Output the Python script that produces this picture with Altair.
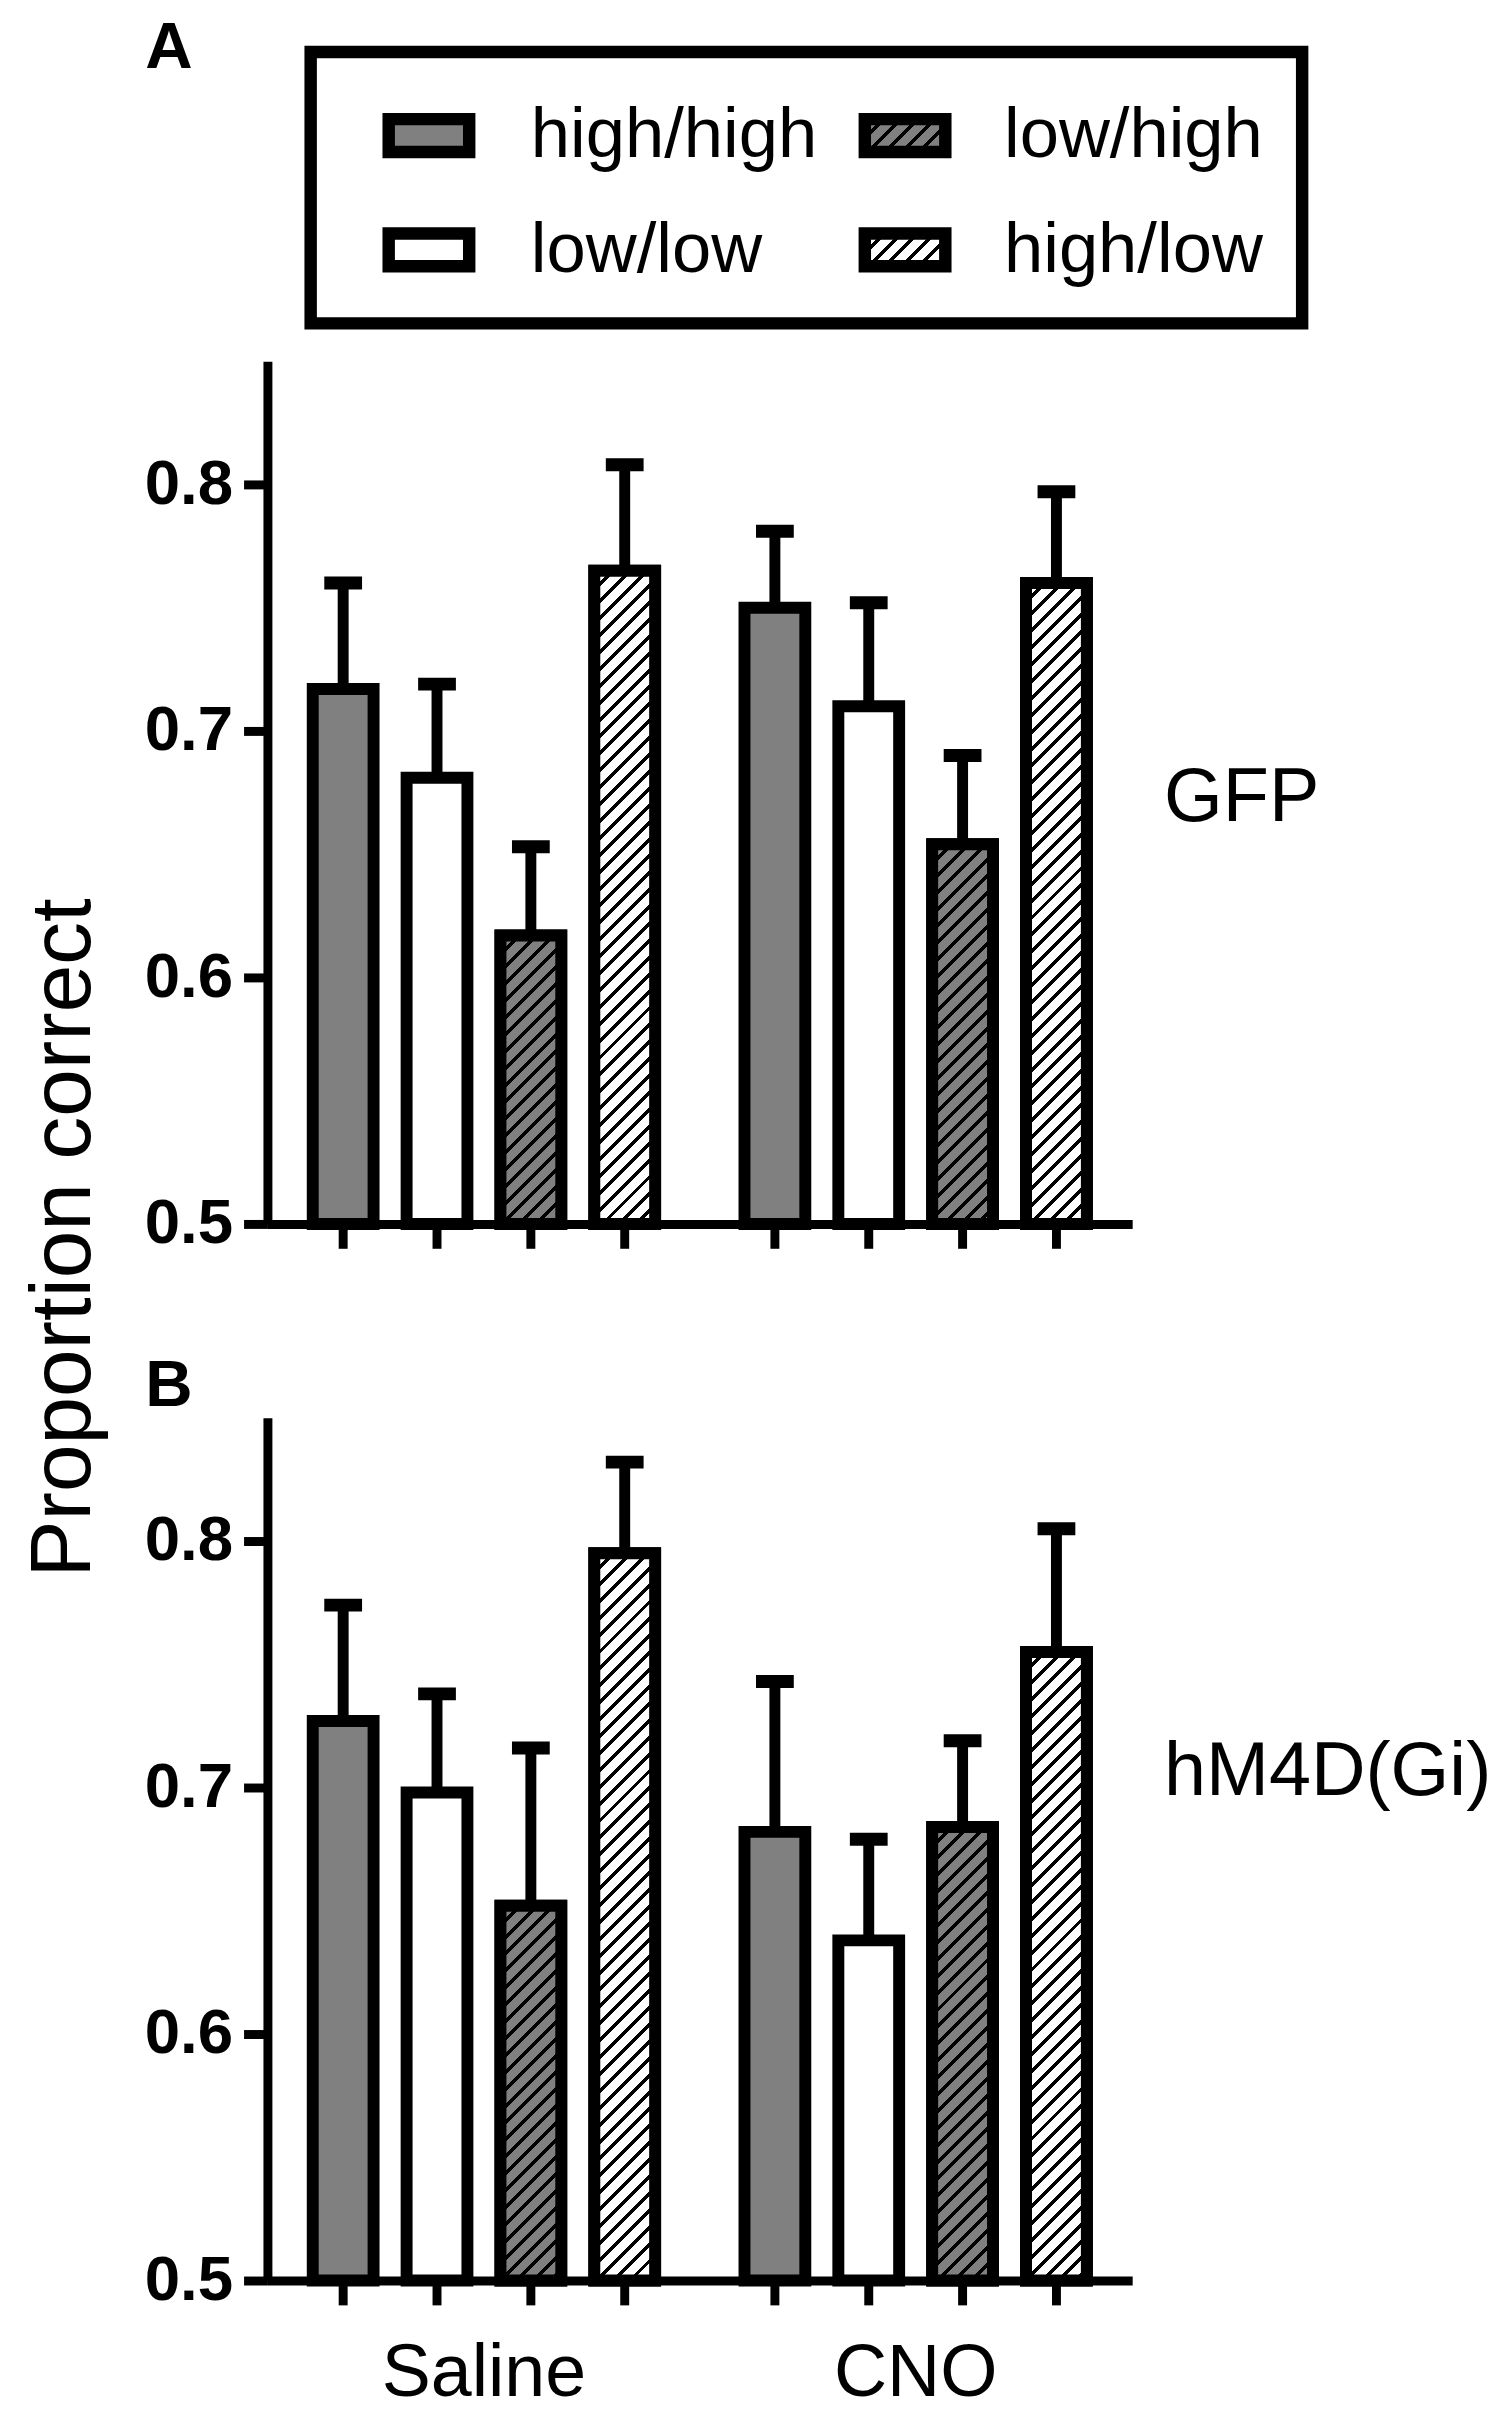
import altair as alt
import pandas as pd

# ---------------- data ----------------
conditions = ["Saline", "CNO"]
groups = ["high/high", "low/low", "low/high", "high/low"]
panel_labels = ["GFP", "hM4D(Gi)"]
panel_letters = ["A", "B"]
y_ticks = [0.5, 0.6, 0.7, 0.8]

# order: Saline x4 groups, CNO x4 groups
gfp_mean = [0.717, 0.681, 0.617, 0.765, 0.750, 0.710, 0.654, 0.760]
gfp_upper = [0.760, 0.719, 0.653, 0.808, 0.781, 0.752, 0.690, 0.797]
hm4d_mean = [0.727, 0.698, 0.652, 0.795, 0.682, 0.638, 0.684, 0.755]
hm4d_upper = [0.774, 0.738, 0.716, 0.832, 0.743, 0.679, 0.719, 0.805]

# ---------------- style ----------------
FONT = "Liberation Sans, Arial, sans-serif"
GRAY = "#808080"
group_fill = [GRAY, "white", GRAY, "white"]
group_hatched = [False, False, True, True]

W, H = 870, 868
Y0, Y1 = 0.5, 0.85
PI, PO = 0.207, 0.105
PI2 = 0.352
GAP = 195
step = W / (len(conditions) - PI + 2 * PO)
bw = step * (1 - PI)
sub = bw / (len(groups) - PI2)
BAR_W = sub * (1 - PI2)
NOVIEW = alt.ViewBackground(stroke="transparent", strokeWidth=0)


def hatch(base, w, h, period=17.0, dark=5.0):
    L = w + h
    d = w * w + h * h
    x2 = w * L / d
    y2 = h * L / d
    stops = []
    pos = 0.0
    while pos < L:
        a = pos / L
        b = min((pos + dark) / L, 1.0)
        c = min((pos + period) / L, 1.0)
        stops += [{"offset": round(a, 5), "color": "black"},
                  {"offset": round(b, 5), "color": "black"},
                  {"offset": round(b, 5), "color": base},
                  {"offset": round(c, 5), "color": base}]
        pos += period
    return {"gradient": "linear", "x1": 0, "y1": 0, "x2": x2, "y2": y2,
            "stops": stops}


def panel(means, uppers, label, label_y, letter, letter_y, show_labels, with_title):
    df = pd.DataFrame({
        "cond": [c for c in conditions for g in groups],
        "group": groups * len(conditions),
        "mean": means,
        "upper": uppers,
    })
    x = alt.X("cond:N", sort=conditions,
              scale=alt.Scale(paddingInner=PI, paddingOuter=PO),
              axis=alt.Axis(title=None, ticks=False, tickSize=0, domainWidth=9,
                            domainColor="black", labels=show_labels, labelAngle=0,
                            labelFontSize=74, labelFont=FONT, labelColor="black",
                            labelPadding=58, labelLimit=600, zindex=1))
    xo = alt.XOffset("group:N", sort=groups,
                     scale=alt.Scale(paddingInner=PI2, paddingOuter=0))
    yscale = alt.Scale(domain=[Y0, Y1], zero=False, nice=False)
    yaxis = alt.Axis(values=y_ticks, format=".1f", title=None, grid=False,
                     domainWidth=9, domainColor="black", tickWidth=9, tickSize=24,
                     tickColor="black", labelPadding=11, labelFontSize=64,
                     labelFontWeight="bold", labelFont=FONT, labelColor="black",
                     zindex=1)
    base = alt.Chart(df)
    stems = base.mark_rule(color="black", strokeWidth=11, opacity=1).encode(
        x=x, xOffset=xo, y=alt.Y("mean:Q", scale=yscale, axis=yaxis), y2="upper:Q")
    caps = base.mark_tick(color="black", thickness=13, size=38, opacity=1).encode(
        x=x, xOffset=xo, y=alt.Y("upper:Q", scale=yscale, axis=yaxis))
    bars = base.mark_bar(stroke="black", strokeWidth=12, opacity=1).encode(
        x=x, xOffset=xo, y=alt.Y("mean:Q", scale=yscale, axis=yaxis),
        y2=alt.datum(Y0),
        fill=alt.Fill("group:N", scale=alt.Scale(domain=groups, range=group_fill),
                      legend=None))
    layers = [stems, caps, bars]
    for c, g, m in zip(df["cond"], df["group"], df["mean"]):
        gi = groups.index(g)
        if not group_hatched[gi]:
            continue
        h = (m - Y0) / (Y1 - Y0) * H
        layers.append(
            base.transform_filter((alt.datum.cond == c) & (alt.datum.group == g))
            .mark_bar(stroke="black", strokeWidth=12, opacity=1,
                      fill=hatch(group_fill[gi], BAR_W, h))
            .encode(x=x, xOffset=xo, y=alt.Y("mean:Q", scale=yscale, axis=yaxis),
                    y2=alt.datum(Y0)))
    xticks = base.mark_rule(color="black", strokeWidth=9).encode(
        x=x, xOffset=xo, y=alt.datum(Y0), y2=alt.value(H + 25))
    layers.append(xticks)
    layers.append(
        alt.Chart(pd.DataFrame({"t": [label]})).mark_text(
            align="left", baseline="middle", fontSize=76, font=FONT, color="black")
        .encode(text="t:N", x=alt.value(W + 32), y=alt.value(label_y)))
    if letter is not None:
        layers.append(
            alt.Chart(pd.DataFrame({"t": [letter]})).mark_text(
                align="left", baseline="alphabetic", fontSize=66, fontWeight="bold",
                font=FONT, color="black")
            .encode(text="t:N", x=alt.value(-123), y=alt.value(letter_y)))
    if with_title:
        layers.append(
            alt.Chart(pd.DataFrame({"t": ["Proportion correct"]})).mark_text(
                align="center", baseline="alphabetic", angle=270, fontSize=86,
                font=FONT, color="black")
            .encode(text="t:N", x=alt.value(-178), y=alt.value(H + 14)))
    return alt.layer(*layers).properties(width=W, height=H, view=NOVIEW)


# ---------------- legend ----------------
# legend view: top at the box top; its (flush) height leaves GAP to panel A
LW = 1041
LH = 311 - GAP
SW, SH = 81, 33
leg_col = [0, 0, 1, 1]
leg_row = [0, 1, 0, 1]
leg_groups = ["high/high", "low/low", "low/high", "high/low"]
col_cx = [162.5, 641.5]
row_cy = [84, 199]
col_tx = [265, 741]
row_ty = [106, 221]
BOX = (43.5, LW, 0, 273)

leg_df = pd.DataFrame({
    "group": leg_groups,
    "x1": [col_cx[c] - SW / 2 for c in leg_col],
    "x2": [col_cx[c] + SW / 2 for c in leg_col],
    "y1": [row_cy[r] - SH / 2 for r in leg_row],
    "y2": [row_cy[r] + SH / 2 for r in leg_row],
    "tx": [col_tx[c] for c in leg_col],
    "ty": [row_ty[r] for r in leg_row],
})
box_df = pd.DataFrame({"x1": [BOX[0]], "x2": [BOX[1]], "y1": [BOX[2]], "y2": [BOX[3]]})
lxs = alt.Scale(domain=[0, LW], nice=False, zero=False)
lys = alt.Scale(domain=[0, LH], reverse=True, nice=False, zero=False)
lx = alt.X("x1:Q", scale=lxs, axis=None)
ly = alt.Y("y1:Q", scale=lys, axis=None)

legend_layers = [
    alt.Chart(box_df).mark_rect(fill="white", stroke="black", strokeWidth=12.5)
    .encode(x=lx, x2="x2:Q", y=ly, y2="y2:Q")
]
for g, fcol, hat in zip(groups, group_fill, group_hatched):
    fill = hatch(fcol, SW, SH) if hat else fcol
    legend_layers.append(
        alt.Chart(leg_df).transform_filter(alt.datum.group == g)
        .mark_rect(fill=fill, stroke="black", strokeWidth=12.5, opacity=1)
        .encode(x=lx, x2="x2:Q", y=ly, y2="y2:Q"))
legend_layers.append(
    alt.Chart(leg_df).mark_text(align="left", baseline="alphabetic", fontSize=71,
                                font=FONT, color="black")
    .encode(text="group:N",
            x=alt.X("tx:Q", scale=lxs, axis=None),
            y=alt.Y("ty:Q", scale=lys, axis=None)))
legend_layers.append(
    alt.Chart(pd.DataFrame({"t": [panel_letters[0]]})).mark_text(
        align="left", baseline="alphabetic", fontSize=66, fontWeight="bold",
        font=FONT, color="black")
    .encode(text="t:N", x=alt.value(-123), y=alt.value(16)))
legend = alt.layer(*legend_layers).properties(width=LW, height=LH, view=NOVIEW)

pA = panel(gfp_mean, gfp_upper, panel_labels[0], 440, None, 0, False, True)
pB = panel(hm4d_mean, hm4d_upper, panel_labels[1], 357, panel_letters[1], -12, True, False)

chart = alt.vconcat(legend, pA, pB, spacing=GAP, bounds="flush").resolve_scale(
    x="independent", y="independent", fill="independent", xOffset="independent")
chart = chart.properties(padding={"left": 14, "top": 0, "right": 0, "bottom": 0}) \
    .configure(font=FONT) \
    .configure_view(stroke="transparent", strokeWidth=0)

chart.save("out.html", embed_options={"renderer": "svg", "actions": False})
